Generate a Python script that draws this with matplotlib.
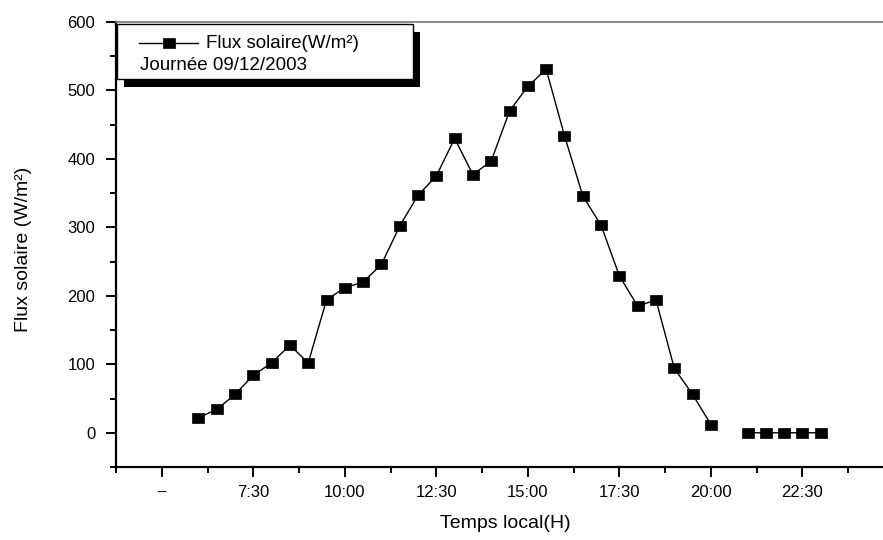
import numpy as np
import matplotlib
matplotlib.use("Agg")
import matplotlib.pyplot as plt
from matplotlib.patches import Rectangle
from matplotlib.lines import Line2D
from matplotlib.ticker import FixedLocator, MultipleLocator

plt.rcParams["font.family"] = ["Liberation Sans", "DejaVu Sans"]

# local time (hours) of each reading; 20:30 has no reading
HOURS = [6.0, 6.5, 7.0, 7.5, 8.0, 8.5, 9.0, 9.5, 10.0, 10.5, 11.0, 11.5,
         12.0, 12.5, 13.0, 13.5, 14.0, 14.5, 15.0, 15.5, 16.0, 16.5, 17.0,
         17.5, 18.0, 18.5, 19.0, 19.5, 20.0, 20.5, 21.0, 21.5, 22.0, 22.5, 23.0]
FLUX = [22, 34, 56, 84, 102, 128, 102, 194, 212, 220, 246, 302,
        347, 375, 430, 377, 397, 470, 506, 531, 434, 346, 303,
        229, 185, 194, 94, 56, 12, np.nan, 0, 0, 0, 0, 0]

X_TICKS = [5.0, 7.5, 10.0, 12.5, 15.0, 17.5, 20.0, 22.5]
X_TICK_LABELS = ["--", "7:30", "10:00", "12:30", "15:00", "17:30", "20:00", "22:30"]
Y_TICKS = [0, 100, 200, 300, 400, 500, 600]

W, H = 883, 540
RECT_MARKER = [(-6, -5), (6, -5), (6, 5), (-6, 5), (-6, -5)]


def fx(px):
    return px / W


def fy(py):
    return 1 - py / H


fig = plt.figure(figsize=(W / 100, H / 100), dpi=100)
fig.patch.set_facecolor("white")
ax = fig.add_axes([fx(116), fy(467), 1 - fx(116), fy(22) - fy(467)])

ax.plot(HOURS, FLUX, color="black", lw=1.0, marker=RECT_MARKER, ms=8.6,
        mfc="black", mec="black", mew=0.5)

ax.set_xlim(3.75, 24.7)
ax.set_ylim(-50, 600)
ax.xaxis.set_major_locator(FixedLocator(X_TICKS))
ax.set_xticklabels(X_TICK_LABELS)
ax.xaxis.set_minor_locator(MultipleLocator(1.25))
ax.yaxis.set_major_locator(FixedLocator(Y_TICKS))
ax.yaxis.set_minor_locator(MultipleLocator(50))

ax.tick_params(which="major", direction="out", length=7, width=1.4,
               labelsize=12, pad=6, color="black")
ax.tick_params(which="minor", direction="out", length=4.5, width=1.4, color="black")
ax.tick_params(axis="y", pad=8)

for side in ["left", "bottom"]:
    ax.spines[side].set_linewidth(1.6)
    ax.spines[side].set_color("black")
ax.spines["right"].set_visible(False)
ax.spines["top"].set_color("#777777")
ax.spines["top"].set_linewidth(1.2)

ax.set_xlabel("Temps local(H)", fontsize=14, va="center")
ax.xaxis.set_label_coords(0.507, -0.128)
ax.set_ylabel("Flux solaire (W/m²)", fontsize=14, va="center")
ax.yaxis.set_label_coords(-0.12, 0.49)

# legend box with a solid black shadow, Origin style
bx, by, bw, bh = 117, 24, 296, 55
fig.add_artist(Rectangle((fx(bx + 7), fy(by + bh + 8)), bw / W, bh / H,
                         transform=fig.transFigure, facecolor="black",
                         edgecolor="none", zorder=5))
fig.add_artist(Rectangle((fx(bx), fy(by + bh)), bw / W, bh / H,
                         transform=fig.transFigure, facecolor="white",
                         edgecolor="black", lw=1.0, zorder=6))
fig.add_artist(Line2D([fx(139), fx(198)], [fy(43), fy(43)], color="black",
                      lw=1.0, transform=fig.transFigure, zorder=7))
fig.add_artist(Line2D([fx(169)], [fy(43)], marker=RECT_MARKER, ms=8.6,
                      mfc="black", mec="black", mew=0.5,
                      transform=fig.transFigure, zorder=7))
fig.text(fx(206), fy(43), "Flux solaire(W/m²)", fontsize=13.5, va="center", zorder=7)
fig.text(fx(140), fy(65), "Journée 09/12/2003", fontsize=13.5, va="center", zorder=7)

fig.savefig("out.png", dpi=100, facecolor="white")
